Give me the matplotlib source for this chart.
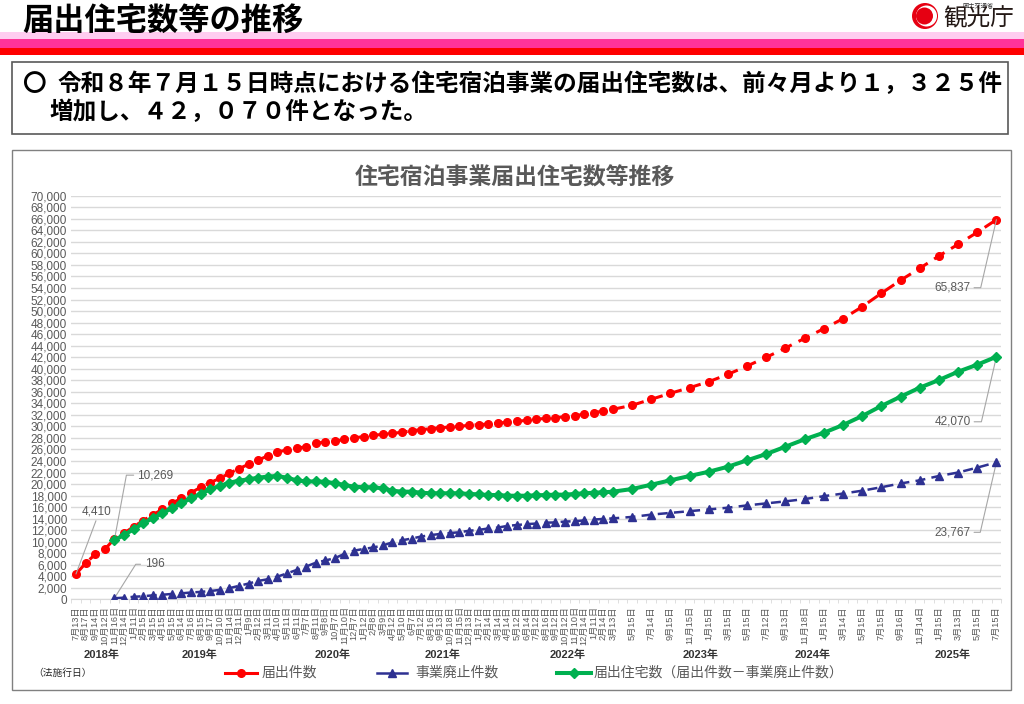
import numpy as np
import matplotlib
matplotlib.use('Agg')
import matplotlib.pyplot as plt
from matplotlib.patches import Rectangle, Circle
from matplotlib.ticker import FuncFormatter

plt.rcParams['font.family'] = ['Liberation Sans', 'Noto Sans CJK JP', 'DejaVu Sans']

# x position = months since 2018-07 (monthly until 2023-03, then every two months)
month_idx = list(range(0, 57)) + list(range(58, 97, 2))

date_labels = [
    '7月13日', '8月17日', '9月14日', '10月12日', '11月16日', '12月14日',
    '1月11日', '2月15日', '3月15日', '4月15日', '5月15日', '6月14日', '7月16日', '8月15日',
    '9月17日', '10月10日', '11月14日', '12月11日',
    '1月9日', '2月12日', '3月11日', '4月10日', '5月11日', '6月11日', '7月7日', '8月11日',
    '9月8日', '10月7日', '11月10日', '12月7日',
    '1月12日', '2月8日', '3月9日', '4月12日', '5月10日', '6月7日', '7月12日', '8月16日',
    '9月13日', '10月18日', '11月15日', '12月13日',
    '1月17日', '2月14日', '3月14日', '4月14日', '5月12日', '6月14日', '7月12日', '8月16日',
    '9月12日', '10月12日', '11月10日', '12月14日',
    '1月11日', '2月14日', '3月13日',
    '5月15日', '7月14日', '9月15日', '11月15日', '1月15日', '3月15日', '5月15日', '7月12日',
    '9月13日', '11月18日', '1月15日', '3月14日', '5月15日', '7月15日', '9月16日', '11月14日',
    '1月15日', '3月13日', '5月15日', '7月15日',
]

# 届出件数
todokede = [
    4410, 6260, 7820, 8690, 10465, 11460, 12610, 13650, 14640, 15620, 16660, 17530, 18500, 19440,
    20240, 21000, 21870, 22670, 23430, 24170, 24870, 25560, 25910, 26200, 26480, 27070, 27290, 27410,
    27760, 28040, 28210, 28450, 28620, 28800, 28970, 29250, 29430, 29600, 29770, 29890, 30010, 30190,
    30290, 30410, 30530, 30760, 30880, 31050, 31230, 31400, 31510, 31680, 31800, 32150, 32370, 32670,
    32960,
    33660, 34700, 35740, 36710, 37750, 39030, 40470, 41980, 43590, 45270, 46940, 48670, 50750, 53080,
    55330, 57410, 59550, 61570, 63650, 65837,
]

# 事業廃止件数 (from 2018-11)
haishi = [
    196, 300, 450, 550, 700, 800, 950, 1050, 1200, 1300, 1450, 1650, 1950, 2350, 2750, 3200, 3500,
    3950, 4500, 5100, 5700, 6350, 6750, 7150,
    7900, 8450, 8750, 9000, 9350, 9900, 10250, 10550, 10900, 11150, 11350, 11500, 11650, 11900,
    12050, 12300, 12450, 12750, 12900, 13050, 13150, 13300, 13350, 13500, 13550, 13700, 13850,
    13950, 14050,
    14300, 14700, 15000, 15300, 15600, 15900, 16300, 16650, 17000, 17400, 17900, 18350, 18850,
    19450, 20100, 20650, 21400, 22000, 22850, 23767,
]

# 届出住宅数 (from 2018-11)
jutaku = [
    10269, 11170, 12150, 13200, 14060, 14930, 15800, 16660, 17530, 18280, 19090, 19660, 20240,
    20590, 20830, 21100, 21300, 21400, 21100, 20650, 20450, 20450, 20400, 20150,
    19840, 19540, 19440, 19440, 19260, 18850, 18680, 18680, 18500, 18400, 18400, 18400, 18400,
    18280, 18220, 18100, 18100, 17980, 17980, 17980, 18050, 18100, 18160, 18160, 18280, 18400,
    18500, 18570, 18680,
    19140, 19890, 20650, 21400, 22140, 23010, 24120, 25210, 26480, 27760, 28900, 30240, 31800,
    33540, 35150, 36710, 38040, 39480, 40700, 42070,
]
sub_idx = month_idx[4:]

year_labels = ['2018年', '2019年', '2020年', '2021年', '2022年', '2023年', '2024年', '2025年']
year_pos = [2.7, 12.9, 26.8, 38.2, 51.3, 65.1, 76.8, 91.4]

RED = '#FF0000'
BLUE = '#2E3192'
GREEN = '#00B050'
GRAY = '#595959'

fig = plt.figure(figsize=(10.24, 7.04), dpi=100)

# page layer in pixel coordinates
bg = fig.add_axes([0, 0, 1, 1])
bg.set_xlim(0, 1024)
bg.set_ylim(704, 0)
bg.axis('off')

bg.add_patch(Rectangle((0, 32), 1024, 7, color='#FFCCF0', lw=0))
bg.add_patch(Rectangle((0, 39), 1024, 9, color='#FF3399', lw=0))
bg.add_patch(Rectangle((0, 48), 1024, 7, color='#FF0000', lw=0))
bg.text(22, 21, '届出住宅数等の推移', fontsize=22.5, fontweight='bold', family=['Noto Sans CJK JP'],
        va='center', ha='left', color='black')

# logo
bg.add_patch(Rectangle((905, 0), 119, 32, color='white', lw=0))
bg.add_patch(Circle((925, 16), 13, color='#E60012', lw=0))
bg.add_patch(Circle((926.5, 16), 10.5, color='white', lw=0))
bg.add_patch(Circle((924.5, 16), 8.5, color='#E60012', lw=0))
bg.text(962, 5, '国土交通省', fontsize=4.5, family=['Noto Sans CJK JP'], va='center', color='#333333')
bg.text(943, 19, '観光庁', fontsize=17, family=['Noto Sans CJK JP'], va='center', color='#231815')

# summary box
bg.add_patch(Rectangle((12, 62), 996, 72, fill=False, edgecolor='#595959', lw=1.2))
bg.text(22, 84, '〇', fontsize=17, fontweight='bold', family=['Noto Sans CJK JP'], va='center')
bg.text(58, 84, '令和８年７月１５日時点における住宅宿泊事業の届出住宅数は、前々月より１，３２５件',
        fontsize=17, fontweight='bold', family=['Noto Sans CJK JP'], va='center')
bg.text(50, 112, '増加し、４２，０７０件となった。',
        fontsize=17, fontweight='bold', family=['Noto Sans CJK JP'], va='center')

# chart frame
bg.add_patch(Rectangle((12, 150), 999, 540, fill=False, edgecolor='#808080', lw=1))
bg.text(515, 178, '住宅宿泊事業届出住宅数等推移', fontsize=16.5, fontweight='bold', color=GRAY,
        ha='center', va='center')

# legend
bg.plot([225, 241, 257], [673] * 3, color=RED, lw=2.2, marker='o', ms=5.5, markevery=[1])
bg.text(262, 673, '届出件数', fontsize=10, color=GRAY, va='center')
bg.plot([377, 392, 407], [673] * 3, color=BLUE, lw=1.8, marker='^', ms=5.5, markevery=[1])
bg.text(415, 673, '事業廃止件数', fontsize=10, color=GRAY, va='center')
bg.plot([557, 574, 591], [673] * 3, color=GREEN, lw=2.9, marker='D', ms=5, markevery=[1])
bg.text(594, 673, '届出住宅数（届出件数－事業廃止件数）', fontsize=10, color=GRAY, va='center')
bg.text(62, 673, '（法施行日）', fontsize=7, color='#262626', ha='center', va='center')

# chart
ax = fig.add_axes([71.2 / 1024, 1 - 599.4 / 704, 930 / 1024, 403.7 / 704])
ax.set_facecolor('none')
ax.set_xlim(-0.5, 96.5)
ax.set_ylim(0, 70000)
ax.set_yticks(np.arange(0, 70001, 2000))
ax.yaxis.set_major_formatter(FuncFormatter(lambda v, p: f'{int(v):,}'))
ax.grid(axis='y', color='#D9D9D9', lw=1)
ax.set_axisbelow(True)
for s in ['left', 'right', 'top']:
    ax.spines[s].set_visible(False)
ax.spines['bottom'].set_color('#D9D9D9')
ax.tick_params(axis='y', length=0, labelsize=8.5, labelcolor=GRAY, pad=3)
ax.set_xticks(month_idx)
ax.set_xticklabels(date_labels, rotation=90, fontsize=6.6, color=GRAY)
ax.tick_params(axis='x', which='major', length=0, pad=5)
ax.set_xticks(np.arange(-0.5, 97, 1), minor=True)
ax.tick_params(axis='x', which='minor', length=3, color='#D9D9D9')

ax.plot(month_idx, todokede, color=RED, lw=2.2, dashes=(4, 2.5), marker='o', ms=5.5, zorder=3)
ax.plot(sub_idx, haishi, color=BLUE, lw=1.8, dashes=(4, 2.5), marker='^', ms=5.5, zorder=4)
ax.plot(sub_idx, jutaku, color=GREEN, lw=2.9, marker='D', ms=5, zorder=5)

for lab, pos in zip(year_labels, year_pos):
    ax.text(pos, -0.138, lab, transform=ax.get_xaxis_transform(), ha='center', va='center',
            fontsize=8, fontweight='bold', color='#333333')

lead = dict(arrowstyle='-', color='#A6A6A6', lw=0.8, shrinkA=0, shrinkB=0)
ann = dict(textcoords='offset pixels', ha='center', va='center', fontsize=8.5, color=GRAY)
ax.annotate(f'{todokede[0]:,}', xy=(month_idx[0], todokede[0]), xytext=(21, 62),
            arrowprops=dict(lead, relpos=(0.5, 0)), **ann)
ax.annotate(f'{jutaku[0]:,}', xy=(sub_idx[0], jutaku[0]), xytext=(41, 65),
            arrowprops=dict(lead, relpos=(-0.1, 0.5), connectionstyle='angle,angleA=0,angleB=79.5,rad=0'),
            **ann)
ax.annotate(f'{haishi[0]:,}', xy=(sub_idx[0], haishi[0]), xytext=(41, 34),
            arrowprops=dict(lead, relpos=(-0.25, 0.5), connectionstyle='angle,angleA=0,angleB=57.8,rad=0'),
            **ann)
for series, dy in [(todokede, -68), (jutaku, -65), (haishi, -70)]:
    ax.annotate(f'{series[-1]:,}', xy=(month_idx[-1], series[-1]), xytext=(-44, dy),
                arrowprops=dict(lead, relpos=(1.1, 0.5), connectionstyle='angle,angleA=0,angleB=77,rad=0'),
                **ann)

fig.savefig('out.png', dpi=100)
